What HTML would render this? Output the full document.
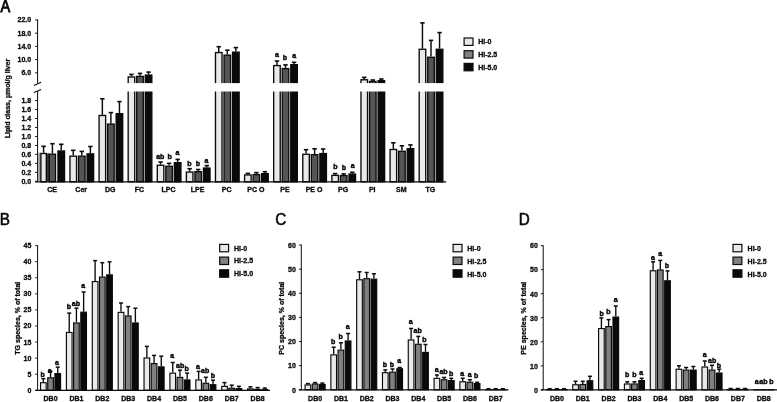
<!DOCTYPE html>
<html lang="en"><head><meta charset="utf-8"><title>Lipid class figure</title>
<style>
html,body{margin:0;padding:0;background:#fff;}
body{width:777px;height:402px;overflow:hidden;}
svg{display:block;font-family:"Liberation Sans",sans-serif;fill:#0a0a0a;}
text{stroke:#0a0a0a;stroke-width:0.3px;}
text.lt{stroke-width:0.45px;}
text.pl{stroke-width:0.6px;}
</style></head><body>
<svg width="777" height="402" viewBox="0 0 777 402">
<rect x="0" y="0" width="777" height="402" fill="#ffffff" stroke="none"/>
<text transform="translate(0.6,11.7) scale(0.86,1)" font-size="17.0" font-weight="normal" class="pl" style="stroke-width:0.9px">A</text>
<line x1="37.60" y1="19.50" x2="37.60" y2="83.30" stroke="#0a0a0a" stroke-width="1.0"/>
<line x1="37.60" y1="91.30" x2="37.60" y2="181.80" stroke="#0a0a0a" stroke-width="1.0"/>
<line x1="33.90" y1="85.60" x2="41.10" y2="82.30" stroke="#0a0a0a" stroke-width="1.1"/>
<line x1="33.90" y1="92.60" x2="41.10" y2="89.40" stroke="#0a0a0a" stroke-width="1.1"/>
<line x1="35.00" y1="19.90" x2="37.60" y2="19.90" stroke="#0a0a0a" stroke-width="0.9"/>
<text x="31.20" y="22.40" font-size="7.0" font-weight="bold" text-anchor="end" >22.0</text>
<line x1="35.00" y1="33.20" x2="37.60" y2="33.20" stroke="#0a0a0a" stroke-width="0.9"/>
<text x="31.20" y="35.70" font-size="7.0" font-weight="bold" text-anchor="end" >18.0</text>
<line x1="35.00" y1="46.40" x2="37.60" y2="46.40" stroke="#0a0a0a" stroke-width="0.9"/>
<text x="31.20" y="48.90" font-size="7.0" font-weight="bold" text-anchor="end" >14.0</text>
<line x1="35.00" y1="59.60" x2="37.60" y2="59.60" stroke="#0a0a0a" stroke-width="0.9"/>
<text x="31.20" y="62.10" font-size="7.0" font-weight="bold" text-anchor="end" >10.0</text>
<line x1="35.00" y1="72.80" x2="37.60" y2="72.80" stroke="#0a0a0a" stroke-width="0.9"/>
<text x="31.20" y="75.30" font-size="7.0" font-weight="bold" text-anchor="end" >6.0</text>
<line x1="35.00" y1="181.30" x2="37.60" y2="181.30" stroke="#0a0a0a" stroke-width="0.9"/>
<text x="31.20" y="183.80" font-size="7.0" font-weight="bold" text-anchor="end" >0.0</text>
<line x1="35.00" y1="172.33" x2="37.60" y2="172.33" stroke="#0a0a0a" stroke-width="0.9"/>
<text x="31.20" y="174.83" font-size="7.0" font-weight="bold" text-anchor="end" >0.2</text>
<line x1="35.00" y1="163.36" x2="37.60" y2="163.36" stroke="#0a0a0a" stroke-width="0.9"/>
<text x="31.20" y="165.86" font-size="7.0" font-weight="bold" text-anchor="end" >0.4</text>
<line x1="35.00" y1="154.39" x2="37.60" y2="154.39" stroke="#0a0a0a" stroke-width="0.9"/>
<text x="31.20" y="156.89" font-size="7.0" font-weight="bold" text-anchor="end" >0.6</text>
<line x1="35.00" y1="145.42" x2="37.60" y2="145.42" stroke="#0a0a0a" stroke-width="0.9"/>
<text x="31.20" y="147.92" font-size="7.0" font-weight="bold" text-anchor="end" >0.8</text>
<line x1="35.00" y1="136.45" x2="37.60" y2="136.45" stroke="#0a0a0a" stroke-width="0.9"/>
<text x="31.20" y="138.95" font-size="7.0" font-weight="bold" text-anchor="end" >1.0</text>
<line x1="35.00" y1="127.48" x2="37.60" y2="127.48" stroke="#0a0a0a" stroke-width="0.9"/>
<text x="31.20" y="129.98" font-size="7.0" font-weight="bold" text-anchor="end" >1.2</text>
<line x1="35.00" y1="118.51" x2="37.60" y2="118.51" stroke="#0a0a0a" stroke-width="0.9"/>
<text x="31.20" y="121.01" font-size="7.0" font-weight="bold" text-anchor="end" >1.4</text>
<line x1="35.00" y1="109.54" x2="37.60" y2="109.54" stroke="#0a0a0a" stroke-width="0.9"/>
<text x="31.20" y="112.04" font-size="7.0" font-weight="bold" text-anchor="end" >1.6</text>
<line x1="35.00" y1="100.57" x2="37.60" y2="100.57" stroke="#0a0a0a" stroke-width="0.9"/>
<text x="31.20" y="103.07" font-size="7.0" font-weight="bold" text-anchor="end" >1.8</text>
<text transform="translate(10.20,98.60) rotate(-90)" font-size="7.3" font-weight="bold" text-anchor="middle" textLength="79.5" lengthAdjust="spacingAndGlyphs">Lipid class, µmol/g liver</text>
<rect x="38.2" y="152.8" width="2.3" height="28" fill="#9a9a9a"/>
<rect x="46.6" y="153.4" width="3.2" height="28" fill="#3a3a3a"/>
<rect x="40.88" y="153.48" width="5.45" height="28.32" fill="#e9e9e9" stroke="#0a0a0a" stroke-width="1.35"/>
<line x1="43.60" y1="152.80" x2="43.60" y2="146.30" stroke="#0a0a0a" stroke-width="1.45"/>
<line x1="41.40" y1="146.30" x2="45.80" y2="146.30" stroke="#0a0a0a" stroke-width="1.595"/>
<rect x="49.27" y="154.18" width="6.25" height="27.63" fill="#555555" stroke="#0a0a0a" stroke-width="1.35"/>
<line x1="52.40" y1="153.50" x2="52.40" y2="143.70" stroke="#0a0a0a" stroke-width="1.45"/>
<line x1="50.20" y1="143.70" x2="54.60" y2="143.70" stroke="#0a0a0a" stroke-width="1.595"/>
<rect x="57.98" y="150.98" width="6.55" height="30.82" fill="#0a0a0a" stroke="#0a0a0a" stroke-width="1.35"/>
<line x1="61.25" y1="150.30" x2="61.25" y2="144.30" stroke="#0a0a0a" stroke-width="1.45"/>
<line x1="59.05" y1="144.30" x2="63.45" y2="144.30" stroke="#0a0a0a" stroke-width="1.595"/>
<text x="52.10" y="192.10" font-size="7.0" font-weight="bold" text-anchor="middle" >CE</text>
<rect x="69.98" y="156.18" width="6.55" height="25.63" fill="#e9e9e9" stroke="#0a0a0a" stroke-width="1.35"/>
<line x1="73.25" y1="155.50" x2="73.25" y2="150.30" stroke="#0a0a0a" stroke-width="1.45"/>
<line x1="71.05" y1="150.30" x2="75.45" y2="150.30" stroke="#0a0a0a" stroke-width="1.595"/>
<rect x="78.53" y="156.18" width="6.55" height="25.63" fill="#555555" stroke="#0a0a0a" stroke-width="1.35"/>
<line x1="81.80" y1="155.50" x2="81.80" y2="151.40" stroke="#0a0a0a" stroke-width="1.45"/>
<line x1="79.60" y1="151.40" x2="84.00" y2="151.40" stroke="#0a0a0a" stroke-width="1.595"/>
<rect x="87.08" y="153.88" width="6.55" height="27.93" fill="#0a0a0a" stroke="#0a0a0a" stroke-width="1.35"/>
<line x1="90.35" y1="153.20" x2="90.35" y2="146.50" stroke="#0a0a0a" stroke-width="1.45"/>
<line x1="88.15" y1="146.50" x2="92.55" y2="146.50" stroke="#0a0a0a" stroke-width="1.595"/>
<text x="81.20" y="192.10" font-size="7.0" font-weight="bold" text-anchor="middle" >Cer</text>
<rect x="99.08" y="115.47" width="6.55" height="66.33" fill="#e9e9e9" stroke="#0a0a0a" stroke-width="1.35"/>
<line x1="102.35" y1="114.80" x2="102.35" y2="98.80" stroke="#0a0a0a" stroke-width="1.45"/>
<line x1="100.15" y1="98.80" x2="104.55" y2="98.80" stroke="#0a0a0a" stroke-width="1.595"/>
<rect x="107.62" y="124.08" width="6.55" height="57.73" fill="#555555" stroke="#0a0a0a" stroke-width="1.35"/>
<line x1="110.90" y1="123.40" x2="110.90" y2="112.60" stroke="#0a0a0a" stroke-width="1.45"/>
<line x1="108.70" y1="112.60" x2="113.10" y2="112.60" stroke="#0a0a0a" stroke-width="1.595"/>
<rect x="116.17" y="113.67" width="6.55" height="68.13" fill="#0a0a0a" stroke="#0a0a0a" stroke-width="1.35"/>
<line x1="119.45" y1="113.00" x2="119.45" y2="101.60" stroke="#0a0a0a" stroke-width="1.45"/>
<line x1="117.25" y1="101.60" x2="121.65" y2="101.60" stroke="#0a0a0a" stroke-width="1.595"/>
<text x="110.30" y="192.10" font-size="7.0" font-weight="bold" text-anchor="middle" >DG</text>
<rect x="128.18" y="76.97" width="6.55" height="104.83" fill="#e9e9e9" stroke="#0a0a0a" stroke-width="1.35"/>
<line x1="131.45" y1="76.30" x2="131.45" y2="74.40" stroke="#0a0a0a" stroke-width="1.45"/>
<line x1="129.25" y1="74.40" x2="133.65" y2="74.40" stroke="#0a0a0a" stroke-width="1.595"/>
<rect x="136.73" y="76.38" width="6.55" height="105.43" fill="#555555" stroke="#0a0a0a" stroke-width="1.35"/>
<line x1="140.00" y1="75.70" x2="140.00" y2="73.40" stroke="#0a0a0a" stroke-width="1.45"/>
<line x1="137.80" y1="73.40" x2="142.20" y2="73.40" stroke="#0a0a0a" stroke-width="1.595"/>
<rect x="145.28" y="75.08" width="6.55" height="106.73" fill="#0a0a0a" stroke="#0a0a0a" stroke-width="1.35"/>
<line x1="148.55" y1="74.40" x2="148.55" y2="72.10" stroke="#0a0a0a" stroke-width="1.45"/>
<line x1="146.35" y1="72.10" x2="150.75" y2="72.10" stroke="#0a0a0a" stroke-width="1.595"/>
<rect x="126.50" y="83.1" width="27.5" height="8.4" fill="#fff"/>
<text x="139.40" y="192.10" font-size="7.0" font-weight="bold" text-anchor="middle" >FC</text>
<rect x="157.28" y="165.28" width="6.55" height="16.53" fill="#e9e9e9" stroke="#0a0a0a" stroke-width="1.35"/>
<line x1="160.55" y1="164.60" x2="160.55" y2="162.00" stroke="#0a0a0a" stroke-width="1.45"/>
<line x1="158.35" y1="162.00" x2="162.75" y2="162.00" stroke="#0a0a0a" stroke-width="1.595"/>
<rect x="165.83" y="166.28" width="6.55" height="15.53" fill="#555555" stroke="#0a0a0a" stroke-width="1.35"/>
<line x1="169.10" y1="165.60" x2="169.10" y2="163.30" stroke="#0a0a0a" stroke-width="1.45"/>
<line x1="166.90" y1="163.30" x2="171.30" y2="163.30" stroke="#0a0a0a" stroke-width="1.595"/>
<rect x="174.38" y="162.68" width="6.55" height="19.13" fill="#0a0a0a" stroke="#0a0a0a" stroke-width="1.35"/>
<line x1="177.65" y1="162.00" x2="177.65" y2="159.40" stroke="#0a0a0a" stroke-width="1.45"/>
<line x1="175.45" y1="159.40" x2="179.85" y2="159.40" stroke="#0a0a0a" stroke-width="1.595"/>
<text x="168.50" y="192.10" font-size="7.0" font-weight="bold" text-anchor="middle" >LPC</text>
<rect x="186.38" y="172.08" width="6.55" height="9.73" fill="#e9e9e9" stroke="#0a0a0a" stroke-width="1.35"/>
<line x1="189.65" y1="171.40" x2="189.65" y2="168.70" stroke="#0a0a0a" stroke-width="1.45"/>
<line x1="187.45" y1="168.70" x2="191.85" y2="168.70" stroke="#0a0a0a" stroke-width="1.595"/>
<rect x="194.93" y="171.68" width="6.55" height="10.13" fill="#555555" stroke="#0a0a0a" stroke-width="1.35"/>
<line x1="198.20" y1="171.00" x2="198.20" y2="169.50" stroke="#0a0a0a" stroke-width="1.45"/>
<line x1="196.00" y1="169.50" x2="200.40" y2="169.50" stroke="#0a0a0a" stroke-width="1.595"/>
<rect x="203.47" y="168.08" width="6.55" height="13.73" fill="#0a0a0a" stroke="#0a0a0a" stroke-width="1.35"/>
<line x1="206.75" y1="167.40" x2="206.75" y2="165.60" stroke="#0a0a0a" stroke-width="1.45"/>
<line x1="204.55" y1="165.60" x2="208.95" y2="165.60" stroke="#0a0a0a" stroke-width="1.595"/>
<text x="197.60" y="192.10" font-size="7.0" font-weight="bold" text-anchor="middle" >LPE</text>
<rect x="215.48" y="52.57" width="6.55" height="129.22" fill="#e9e9e9" stroke="#0a0a0a" stroke-width="1.35"/>
<line x1="218.75" y1="51.90" x2="218.75" y2="46.70" stroke="#0a0a0a" stroke-width="1.45"/>
<line x1="216.55" y1="46.70" x2="220.95" y2="46.70" stroke="#0a0a0a" stroke-width="1.595"/>
<rect x="224.03" y="55.17" width="6.55" height="126.63" fill="#555555" stroke="#0a0a0a" stroke-width="1.35"/>
<line x1="227.30" y1="54.50" x2="227.30" y2="50.20" stroke="#0a0a0a" stroke-width="1.45"/>
<line x1="225.10" y1="50.20" x2="229.50" y2="50.20" stroke="#0a0a0a" stroke-width="1.595"/>
<rect x="232.58" y="52.17" width="6.55" height="129.62" fill="#0a0a0a" stroke="#0a0a0a" stroke-width="1.35"/>
<line x1="235.85" y1="51.50" x2="235.85" y2="47.60" stroke="#0a0a0a" stroke-width="1.45"/>
<line x1="233.65" y1="47.60" x2="238.05" y2="47.60" stroke="#0a0a0a" stroke-width="1.595"/>
<rect x="213.80" y="83.1" width="27.5" height="8.4" fill="#fff"/>
<text x="226.70" y="192.10" font-size="7.0" font-weight="bold" text-anchor="middle" >PC</text>
<rect x="244.58" y="174.98" width="6.55" height="6.83" fill="#e9e9e9" stroke="#0a0a0a" stroke-width="1.35"/>
<line x1="247.85" y1="174.30" x2="247.85" y2="173.40" stroke="#0a0a0a" stroke-width="1.45"/>
<line x1="245.65" y1="173.40" x2="250.05" y2="173.40" stroke="#0a0a0a" stroke-width="1.595"/>
<rect x="253.13" y="174.58" width="6.55" height="7.23" fill="#555555" stroke="#0a0a0a" stroke-width="1.35"/>
<line x1="256.40" y1="173.90" x2="256.40" y2="172.60" stroke="#0a0a0a" stroke-width="1.45"/>
<line x1="254.20" y1="172.60" x2="258.60" y2="172.60" stroke="#0a0a0a" stroke-width="1.595"/>
<rect x="261.68" y="173.68" width="6.55" height="8.13" fill="#0a0a0a" stroke="#0a0a0a" stroke-width="1.35"/>
<line x1="264.95" y1="173.00" x2="264.95" y2="171.70" stroke="#0a0a0a" stroke-width="1.45"/>
<line x1="262.75" y1="171.70" x2="267.15" y2="171.70" stroke="#0a0a0a" stroke-width="1.595"/>
<text x="255.80" y="192.10" font-size="7.0" font-weight="bold" text-anchor="middle" >PC O</text>
<rect x="273.68" y="65.58" width="6.55" height="116.23" fill="#e9e9e9" stroke="#0a0a0a" stroke-width="1.35"/>
<line x1="276.95" y1="64.90" x2="276.95" y2="61.00" stroke="#0a0a0a" stroke-width="1.45"/>
<line x1="274.75" y1="61.00" x2="279.15" y2="61.00" stroke="#0a0a0a" stroke-width="1.595"/>
<rect x="282.23" y="68.58" width="6.55" height="113.23" fill="#555555" stroke="#0a0a0a" stroke-width="1.35"/>
<line x1="285.50" y1="67.90" x2="285.50" y2="64.90" stroke="#0a0a0a" stroke-width="1.45"/>
<line x1="283.30" y1="64.90" x2="287.70" y2="64.90" stroke="#0a0a0a" stroke-width="1.595"/>
<rect x="290.78" y="64.67" width="6.55" height="117.13" fill="#0a0a0a" stroke="#0a0a0a" stroke-width="1.35"/>
<line x1="294.05" y1="64.00" x2="294.05" y2="62.30" stroke="#0a0a0a" stroke-width="1.45"/>
<line x1="291.85" y1="62.30" x2="296.25" y2="62.30" stroke="#0a0a0a" stroke-width="1.595"/>
<rect x="272.00" y="83.1" width="27.5" height="8.4" fill="#fff"/>
<text x="284.90" y="192.10" font-size="7.0" font-weight="bold" text-anchor="middle" >PE</text>
<rect x="302.78" y="154.28" width="6.55" height="27.53" fill="#e9e9e9" stroke="#0a0a0a" stroke-width="1.35"/>
<line x1="306.05" y1="153.60" x2="306.05" y2="149.70" stroke="#0a0a0a" stroke-width="1.45"/>
<line x1="303.85" y1="149.70" x2="308.25" y2="149.70" stroke="#0a0a0a" stroke-width="1.595"/>
<rect x="311.33" y="154.68" width="6.55" height="27.13" fill="#555555" stroke="#0a0a0a" stroke-width="1.35"/>
<line x1="314.60" y1="154.00" x2="314.60" y2="148.80" stroke="#0a0a0a" stroke-width="1.45"/>
<line x1="312.40" y1="148.80" x2="316.80" y2="148.80" stroke="#0a0a0a" stroke-width="1.595"/>
<rect x="319.88" y="153.58" width="6.55" height="28.23" fill="#0a0a0a" stroke="#0a0a0a" stroke-width="1.35"/>
<line x1="323.15" y1="152.90" x2="323.15" y2="149.00" stroke="#0a0a0a" stroke-width="1.45"/>
<line x1="320.95" y1="149.00" x2="325.35" y2="149.00" stroke="#0a0a0a" stroke-width="1.595"/>
<text x="314.00" y="192.10" font-size="7.0" font-weight="bold" text-anchor="middle" >PE O</text>
<rect x="331.88" y="175.38" width="6.55" height="6.43" fill="#e9e9e9" stroke="#0a0a0a" stroke-width="1.35"/>
<line x1="335.15" y1="174.70" x2="335.15" y2="173.60" stroke="#0a0a0a" stroke-width="1.45"/>
<line x1="332.95" y1="173.60" x2="337.35" y2="173.60" stroke="#0a0a0a" stroke-width="1.595"/>
<rect x="340.43" y="175.58" width="6.55" height="6.23" fill="#555555" stroke="#0a0a0a" stroke-width="1.35"/>
<line x1="343.70" y1="174.90" x2="343.70" y2="173.90" stroke="#0a0a0a" stroke-width="1.45"/>
<line x1="341.50" y1="173.90" x2="345.90" y2="173.90" stroke="#0a0a0a" stroke-width="1.595"/>
<rect x="348.98" y="174.08" width="6.55" height="7.73" fill="#0a0a0a" stroke="#0a0a0a" stroke-width="1.35"/>
<line x1="352.25" y1="173.40" x2="352.25" y2="172.30" stroke="#0a0a0a" stroke-width="1.45"/>
<line x1="350.05" y1="172.30" x2="354.45" y2="172.30" stroke="#0a0a0a" stroke-width="1.595"/>
<text x="343.10" y="192.10" font-size="7.0" font-weight="bold" text-anchor="middle" >PG</text>
<rect x="360.98" y="79.77" width="6.55" height="102.03" fill="#e9e9e9" stroke="#0a0a0a" stroke-width="1.35"/>
<line x1="364.25" y1="79.10" x2="364.25" y2="77.40" stroke="#0a0a0a" stroke-width="1.45"/>
<line x1="362.05" y1="77.40" x2="366.45" y2="77.40" stroke="#0a0a0a" stroke-width="1.595"/>
<rect x="369.53" y="81.47" width="6.55" height="100.33" fill="#555555" stroke="#0a0a0a" stroke-width="1.35"/>
<line x1="372.80" y1="80.80" x2="372.80" y2="80.00" stroke="#0a0a0a" stroke-width="1.45"/>
<line x1="370.60" y1="80.00" x2="375.00" y2="80.00" stroke="#0a0a0a" stroke-width="1.595"/>
<rect x="378.08" y="80.67" width="6.55" height="101.13" fill="#0a0a0a" stroke="#0a0a0a" stroke-width="1.35"/>
<line x1="381.35" y1="80.00" x2="381.35" y2="79.00" stroke="#0a0a0a" stroke-width="1.45"/>
<line x1="379.15" y1="79.00" x2="383.55" y2="79.00" stroke="#0a0a0a" stroke-width="1.595"/>
<rect x="359.30" y="83.1" width="27.5" height="8.4" fill="#fff"/>
<text x="372.20" y="192.10" font-size="7.0" font-weight="bold" text-anchor="middle" >PI</text>
<rect x="390.08" y="149.48" width="6.55" height="32.33" fill="#e9e9e9" stroke="#0a0a0a" stroke-width="1.35"/>
<line x1="393.35" y1="148.80" x2="393.35" y2="142.80" stroke="#0a0a0a" stroke-width="1.45"/>
<line x1="391.15" y1="142.80" x2="395.55" y2="142.80" stroke="#0a0a0a" stroke-width="1.595"/>
<rect x="398.63" y="151.28" width="6.55" height="30.53" fill="#555555" stroke="#0a0a0a" stroke-width="1.35"/>
<line x1="401.90" y1="150.60" x2="401.90" y2="145.80" stroke="#0a0a0a" stroke-width="1.45"/>
<line x1="399.70" y1="145.80" x2="404.10" y2="145.80" stroke="#0a0a0a" stroke-width="1.595"/>
<rect x="407.18" y="148.68" width="6.55" height="33.13" fill="#0a0a0a" stroke="#0a0a0a" stroke-width="1.35"/>
<line x1="410.45" y1="148.00" x2="410.45" y2="144.90" stroke="#0a0a0a" stroke-width="1.45"/>
<line x1="408.25" y1="144.90" x2="412.65" y2="144.90" stroke="#0a0a0a" stroke-width="1.595"/>
<text x="401.30" y="192.10" font-size="7.0" font-weight="bold" text-anchor="middle" >SM</text>
<rect x="419.18" y="49.27" width="6.55" height="132.53" fill="#e9e9e9" stroke="#0a0a0a" stroke-width="1.35"/>
<line x1="422.45" y1="48.60" x2="422.45" y2="22.90" stroke="#0a0a0a" stroke-width="1.45"/>
<line x1="420.25" y1="22.90" x2="424.65" y2="22.90" stroke="#0a0a0a" stroke-width="1.595"/>
<rect x="427.73" y="57.27" width="6.55" height="124.53" fill="#555555" stroke="#0a0a0a" stroke-width="1.35"/>
<line x1="431.00" y1="56.60" x2="431.00" y2="40.40" stroke="#0a0a0a" stroke-width="1.45"/>
<line x1="428.80" y1="40.40" x2="433.20" y2="40.40" stroke="#0a0a0a" stroke-width="1.595"/>
<rect x="436.28" y="49.27" width="6.55" height="132.53" fill="#0a0a0a" stroke="#0a0a0a" stroke-width="1.35"/>
<line x1="439.55" y1="48.60" x2="439.55" y2="32.60" stroke="#0a0a0a" stroke-width="1.45"/>
<line x1="437.35" y1="32.60" x2="441.75" y2="32.60" stroke="#0a0a0a" stroke-width="1.595"/>
<rect x="417.50" y="83.1" width="27.5" height="8.4" fill="#fff"/>
<text x="430.40" y="192.10" font-size="7.0" font-weight="bold" text-anchor="middle" >TG</text>
<line x1="35.00" y1="181.80" x2="446.20" y2="181.80" stroke="#0a0a0a" stroke-width="1.3"/>
<text x="160.30" y="158.80" font-size="7.0" font-weight="bold" text-anchor="middle" class="lt">ab</text>
<text x="169.70" y="158.80" font-size="7.0" font-weight="bold" text-anchor="middle" class="lt">b</text>
<text x="177.40" y="154.50" font-size="7.0" font-weight="bold" text-anchor="middle" class="lt">a</text>
<text x="189.50" y="165.60" font-size="7.0" font-weight="bold" text-anchor="middle" class="lt">b</text>
<text x="197.90" y="165.60" font-size="7.0" font-weight="bold" text-anchor="middle" class="lt">b</text>
<text x="206.50" y="163.00" font-size="7.0" font-weight="bold" text-anchor="middle" class="lt">a</text>
<text x="277.00" y="57.30" font-size="7.0" font-weight="bold" text-anchor="middle" class="lt">a</text>
<text x="285.00" y="59.60" font-size="7.0" font-weight="bold" text-anchor="middle" class="lt">b</text>
<text x="294.20" y="57.70" font-size="7.0" font-weight="bold" text-anchor="middle" class="lt">a</text>
<text x="335.40" y="169.10" font-size="7.0" font-weight="bold" text-anchor="middle" class="lt">b</text>
<text x="344.00" y="169.50" font-size="7.0" font-weight="bold" text-anchor="middle" class="lt">b</text>
<text x="352.60" y="167.80" font-size="7.0" font-weight="bold" text-anchor="middle" class="lt">a</text>
<rect x="464.10" y="38.00" width="8.90" height="7.40" fill="#e9e9e9" stroke="#0a0a0a" stroke-width="1.2"/>
<text x="478.20" y="44.10" font-size="7.0" font-weight="bold" text-anchor="start" >HI-0</text>
<rect x="464.10" y="50.70" width="8.90" height="7.40" fill="#808080" stroke="#0a0a0a" stroke-width="1.2"/>
<text x="478.20" y="56.80" font-size="7.0" font-weight="bold" text-anchor="start" >HI-2.5</text>
<rect x="464.10" y="63.40" width="8.90" height="7.40" fill="#0a0a0a" stroke="#0a0a0a" stroke-width="1.2"/>
<text x="478.20" y="69.50" font-size="7.0" font-weight="bold" text-anchor="start" >HI-5.0</text>
<text transform="translate(-0.30,224.5) scale(0.94,1)" font-size="16.2" font-weight="normal" class="pl">B</text>
<line x1="37.60" y1="245.20" x2="37.60" y2="390.30" stroke="#0a0a0a" stroke-width="1.0"/>
<line x1="35.20" y1="390.30" x2="37.60" y2="390.30" stroke="#0a0a0a" stroke-width="0.9"/>
<text x="31.30" y="392.80" font-size="7.0" font-weight="bold" text-anchor="end" >0</text>
<line x1="35.20" y1="374.22" x2="37.60" y2="374.22" stroke="#0a0a0a" stroke-width="0.9"/>
<text x="31.30" y="376.72" font-size="7.0" font-weight="bold" text-anchor="end" >5</text>
<line x1="35.20" y1="358.14" x2="37.60" y2="358.14" stroke="#0a0a0a" stroke-width="0.9"/>
<text x="31.30" y="360.64" font-size="7.0" font-weight="bold" text-anchor="end" >10</text>
<line x1="35.20" y1="342.07" x2="37.60" y2="342.07" stroke="#0a0a0a" stroke-width="0.9"/>
<text x="31.30" y="344.57" font-size="7.0" font-weight="bold" text-anchor="end" >15</text>
<line x1="35.20" y1="325.99" x2="37.60" y2="325.99" stroke="#0a0a0a" stroke-width="0.9"/>
<text x="31.30" y="328.49" font-size="7.0" font-weight="bold" text-anchor="end" >20</text>
<line x1="35.20" y1="309.91" x2="37.60" y2="309.91" stroke="#0a0a0a" stroke-width="0.9"/>
<text x="31.30" y="312.41" font-size="7.0" font-weight="bold" text-anchor="end" >25</text>
<line x1="35.20" y1="293.83" x2="37.60" y2="293.83" stroke="#0a0a0a" stroke-width="0.9"/>
<text x="31.30" y="296.33" font-size="7.0" font-weight="bold" text-anchor="end" >30</text>
<line x1="35.20" y1="277.76" x2="37.60" y2="277.76" stroke="#0a0a0a" stroke-width="0.9"/>
<text x="31.30" y="280.26" font-size="7.0" font-weight="bold" text-anchor="end" >35</text>
<line x1="35.20" y1="261.68" x2="37.60" y2="261.68" stroke="#0a0a0a" stroke-width="0.9"/>
<text x="31.30" y="264.18" font-size="7.0" font-weight="bold" text-anchor="end" >40</text>
<line x1="35.20" y1="245.60" x2="37.60" y2="245.60" stroke="#0a0a0a" stroke-width="0.9"/>
<text x="31.30" y="248.10" font-size="7.0" font-weight="bold" text-anchor="end" >45</text>
<text transform="translate(20.00,318.20) rotate(-90)" font-size="7.3" font-weight="bold" text-anchor="middle" textLength="73.0" lengthAdjust="spacingAndGlyphs">TG species, % of total</text>
<rect x="40.53" y="382.68" width="5.65" height="7.62" fill="#e9e9e9" stroke="#0a0a0a" stroke-width="1.15"/>
<line x1="43.35" y1="382.10" x2="43.35" y2="378.70" stroke="#0a0a0a" stroke-width="1.35"/>
<line x1="41.35" y1="378.70" x2="45.35" y2="378.70" stroke="#0a0a0a" stroke-width="1.4850000000000003"/>
<rect x="47.73" y="377.77" width="5.65" height="12.53" fill="#808080" stroke="#0a0a0a" stroke-width="1.15"/>
<line x1="50.55" y1="377.20" x2="50.55" y2="371.30" stroke="#0a0a0a" stroke-width="1.35"/>
<line x1="48.55" y1="371.30" x2="52.55" y2="371.30" stroke="#0a0a0a" stroke-width="1.4850000000000003"/>
<rect x="54.93" y="373.57" width="5.65" height="16.73" fill="#0a0a0a" stroke="#0a0a0a" stroke-width="1.15"/>
<line x1="57.75" y1="373.00" x2="57.75" y2="367.10" stroke="#0a0a0a" stroke-width="1.35"/>
<line x1="55.75" y1="367.10" x2="59.75" y2="367.10" stroke="#0a0a0a" stroke-width="1.4850000000000003"/>
<text x="50.55" y="400.90" font-size="7.0" font-weight="bold" text-anchor="middle" >DB0</text>
<rect x="66.41" y="332.47" width="5.65" height="57.83" fill="#e9e9e9" stroke="#0a0a0a" stroke-width="1.15"/>
<line x1="69.23" y1="331.90" x2="69.23" y2="313.10" stroke="#0a0a0a" stroke-width="1.35"/>
<line x1="67.23" y1="313.10" x2="71.23" y2="313.10" stroke="#0a0a0a" stroke-width="1.4850000000000003"/>
<rect x="73.61" y="322.97" width="5.65" height="67.33" fill="#808080" stroke="#0a0a0a" stroke-width="1.15"/>
<line x1="76.43" y1="322.40" x2="76.43" y2="308.20" stroke="#0a0a0a" stroke-width="1.35"/>
<line x1="74.43" y1="308.20" x2="78.43" y2="308.20" stroke="#0a0a0a" stroke-width="1.4850000000000003"/>
<rect x="80.81" y="312.18" width="5.65" height="78.12" fill="#0a0a0a" stroke="#0a0a0a" stroke-width="1.15"/>
<line x1="83.63" y1="311.60" x2="83.63" y2="292.00" stroke="#0a0a0a" stroke-width="1.35"/>
<line x1="81.63" y1="292.00" x2="85.63" y2="292.00" stroke="#0a0a0a" stroke-width="1.4850000000000003"/>
<text x="76.43" y="400.90" font-size="7.0" font-weight="bold" text-anchor="middle" >DB1</text>
<rect x="92.29" y="281.57" width="5.65" height="108.73" fill="#e9e9e9" stroke="#0a0a0a" stroke-width="1.15"/>
<line x1="95.11" y1="281.00" x2="95.11" y2="260.60" stroke="#0a0a0a" stroke-width="1.35"/>
<line x1="93.11" y1="260.60" x2="97.11" y2="260.60" stroke="#0a0a0a" stroke-width="1.4850000000000003"/>
<rect x="99.49" y="277.07" width="5.65" height="113.23" fill="#808080" stroke="#0a0a0a" stroke-width="1.15"/>
<line x1="102.31" y1="276.50" x2="102.31" y2="262.70" stroke="#0a0a0a" stroke-width="1.35"/>
<line x1="100.31" y1="262.70" x2="104.31" y2="262.70" stroke="#0a0a0a" stroke-width="1.4850000000000003"/>
<rect x="106.69" y="274.88" width="5.65" height="115.42" fill="#0a0a0a" stroke="#0a0a0a" stroke-width="1.15"/>
<line x1="109.51" y1="274.30" x2="109.51" y2="261.90" stroke="#0a0a0a" stroke-width="1.35"/>
<line x1="107.51" y1="261.90" x2="111.51" y2="261.90" stroke="#0a0a0a" stroke-width="1.4850000000000003"/>
<text x="102.31" y="400.90" font-size="7.0" font-weight="bold" text-anchor="middle" >DB2</text>
<rect x="118.17" y="312.38" width="5.65" height="77.92" fill="#e9e9e9" stroke="#0a0a0a" stroke-width="1.15"/>
<line x1="120.99" y1="311.80" x2="120.99" y2="303.00" stroke="#0a0a0a" stroke-width="1.35"/>
<line x1="118.99" y1="303.00" x2="122.99" y2="303.00" stroke="#0a0a0a" stroke-width="1.4850000000000003"/>
<rect x="125.37" y="315.97" width="5.65" height="74.33" fill="#808080" stroke="#0a0a0a" stroke-width="1.15"/>
<line x1="128.19" y1="315.40" x2="128.19" y2="306.60" stroke="#0a0a0a" stroke-width="1.35"/>
<line x1="126.19" y1="306.60" x2="130.19" y2="306.60" stroke="#0a0a0a" stroke-width="1.4850000000000003"/>
<rect x="132.56" y="322.97" width="5.65" height="67.33" fill="#0a0a0a" stroke="#0a0a0a" stroke-width="1.15"/>
<line x1="135.39" y1="322.40" x2="135.39" y2="308.20" stroke="#0a0a0a" stroke-width="1.35"/>
<line x1="133.39" y1="308.20" x2="137.39" y2="308.20" stroke="#0a0a0a" stroke-width="1.4850000000000003"/>
<text x="128.19" y="400.90" font-size="7.0" font-weight="bold" text-anchor="middle" >DB3</text>
<rect x="144.04" y="357.97" width="5.65" height="32.33" fill="#e9e9e9" stroke="#0a0a0a" stroke-width="1.15"/>
<line x1="146.87" y1="357.40" x2="146.87" y2="346.40" stroke="#0a0a0a" stroke-width="1.35"/>
<line x1="144.87" y1="346.40" x2="148.87" y2="346.40" stroke="#0a0a0a" stroke-width="1.4850000000000003"/>
<rect x="151.24" y="363.57" width="5.65" height="26.73" fill="#808080" stroke="#0a0a0a" stroke-width="1.15"/>
<line x1="154.07" y1="363.00" x2="154.07" y2="355.40" stroke="#0a0a0a" stroke-width="1.35"/>
<line x1="152.07" y1="355.40" x2="156.07" y2="355.40" stroke="#0a0a0a" stroke-width="1.4850000000000003"/>
<rect x="158.44" y="366.88" width="5.65" height="23.43" fill="#0a0a0a" stroke="#0a0a0a" stroke-width="1.15"/>
<line x1="161.27" y1="366.30" x2="161.27" y2="356.20" stroke="#0a0a0a" stroke-width="1.35"/>
<line x1="159.27" y1="356.20" x2="163.27" y2="356.20" stroke="#0a0a0a" stroke-width="1.4850000000000003"/>
<text x="154.07" y="400.90" font-size="7.0" font-weight="bold" text-anchor="middle" >DB4</text>
<rect x="169.93" y="373.18" width="5.65" height="17.12" fill="#e9e9e9" stroke="#0a0a0a" stroke-width="1.15"/>
<line x1="172.75" y1="372.60" x2="172.75" y2="362.50" stroke="#0a0a0a" stroke-width="1.35"/>
<line x1="170.75" y1="362.50" x2="174.75" y2="362.50" stroke="#0a0a0a" stroke-width="1.4850000000000003"/>
<rect x="177.12" y="377.38" width="5.65" height="12.93" fill="#808080" stroke="#0a0a0a" stroke-width="1.15"/>
<line x1="179.95" y1="376.80" x2="179.95" y2="370.20" stroke="#0a0a0a" stroke-width="1.35"/>
<line x1="177.95" y1="370.20" x2="181.95" y2="370.20" stroke="#0a0a0a" stroke-width="1.4850000000000003"/>
<rect x="184.33" y="379.97" width="5.65" height="10.33" fill="#0a0a0a" stroke="#0a0a0a" stroke-width="1.15"/>
<line x1="187.15" y1="379.40" x2="187.15" y2="373.10" stroke="#0a0a0a" stroke-width="1.35"/>
<line x1="185.15" y1="373.10" x2="189.15" y2="373.10" stroke="#0a0a0a" stroke-width="1.4850000000000003"/>
<text x="179.95" y="400.90" font-size="7.0" font-weight="bold" text-anchor="middle" >DB5</text>
<rect x="195.81" y="379.97" width="5.65" height="10.33" fill="#e9e9e9" stroke="#0a0a0a" stroke-width="1.15"/>
<line x1="198.63" y1="379.40" x2="198.63" y2="371.40" stroke="#0a0a0a" stroke-width="1.35"/>
<line x1="196.63" y1="371.40" x2="200.63" y2="371.40" stroke="#0a0a0a" stroke-width="1.4850000000000003"/>
<rect x="203.00" y="383.27" width="5.65" height="7.03" fill="#808080" stroke="#0a0a0a" stroke-width="1.15"/>
<line x1="205.83" y1="382.70" x2="205.83" y2="377.30" stroke="#0a0a0a" stroke-width="1.35"/>
<line x1="203.83" y1="377.30" x2="207.83" y2="377.30" stroke="#0a0a0a" stroke-width="1.4850000000000003"/>
<rect x="210.21" y="384.68" width="5.65" height="5.62" fill="#0a0a0a" stroke="#0a0a0a" stroke-width="1.15"/>
<line x1="213.03" y1="384.10" x2="213.03" y2="380.20" stroke="#0a0a0a" stroke-width="1.35"/>
<line x1="211.03" y1="380.20" x2="215.03" y2="380.20" stroke="#0a0a0a" stroke-width="1.4850000000000003"/>
<text x="205.83" y="400.90" font-size="7.0" font-weight="bold" text-anchor="middle" >DB6</text>
<rect x="221.69" y="386.38" width="5.65" height="3.92" fill="#e9e9e9" stroke="#0a0a0a" stroke-width="1.15"/>
<line x1="224.51" y1="385.80" x2="224.51" y2="382.60" stroke="#0a0a0a" stroke-width="1.35"/>
<line x1="222.51" y1="382.60" x2="226.51" y2="382.60" stroke="#0a0a0a" stroke-width="1.4850000000000003"/>
<rect x="228.88" y="388.27" width="5.65" height="2.03" fill="#808080" stroke="#0a0a0a" stroke-width="1.15"/>
<line x1="231.71" y1="387.70" x2="231.71" y2="385.20" stroke="#0a0a0a" stroke-width="1.35"/>
<line x1="229.71" y1="385.20" x2="233.71" y2="385.20" stroke="#0a0a0a" stroke-width="1.4850000000000003"/>
<rect x="236.09" y="388.57" width="5.65" height="1.73" fill="#0a0a0a" stroke="#0a0a0a" stroke-width="1.15"/>
<line x1="238.91" y1="388.00" x2="238.91" y2="386.30" stroke="#0a0a0a" stroke-width="1.35"/>
<line x1="236.91" y1="386.30" x2="240.91" y2="386.30" stroke="#0a0a0a" stroke-width="1.4850000000000003"/>
<text x="231.71" y="400.90" font-size="7.0" font-weight="bold" text-anchor="middle" >DB7</text>
<rect x="247.56" y="388.88" width="5.65" height="1.43" fill="#e9e9e9" stroke="#0a0a0a" stroke-width="1.15"/>
<line x1="250.39" y1="388.30" x2="250.39" y2="386.80" stroke="#0a0a0a" stroke-width="1.35"/>
<line x1="248.39" y1="386.80" x2="252.39" y2="386.80" stroke="#0a0a0a" stroke-width="1.4850000000000003"/>
<rect x="254.76" y="389.38" width="5.65" height="0.93" fill="#808080" stroke="#0a0a0a" stroke-width="1.15"/>
<line x1="257.59" y1="388.80" x2="257.59" y2="387.60" stroke="#0a0a0a" stroke-width="1.35"/>
<line x1="255.59" y1="387.60" x2="259.59" y2="387.60" stroke="#0a0a0a" stroke-width="1.4850000000000003"/>
<rect x="261.96" y="389.47" width="5.65" height="0.83" fill="#0a0a0a" stroke="#0a0a0a" stroke-width="1.15"/>
<line x1="264.79" y1="388.90" x2="264.79" y2="388.00" stroke="#0a0a0a" stroke-width="1.35"/>
<line x1="262.79" y1="388.00" x2="266.79" y2="388.00" stroke="#0a0a0a" stroke-width="1.4850000000000003"/>
<text x="257.59" y="400.90" font-size="7.0" font-weight="bold" text-anchor="middle" >DB8</text>
<line x1="35.20" y1="390.30" x2="270.00" y2="390.30" stroke="#0a0a0a" stroke-width="1.3"/>
<text x="42.70" y="376.50" font-size="7.0" font-weight="bold" text-anchor="middle" class="lt">b</text>
<text x="49.80" y="373.30" font-size="7.0" font-weight="bold" text-anchor="middle" class="lt">a</text>
<text x="57.00" y="364.50" font-size="7.0" font-weight="bold" text-anchor="middle" class="lt">a</text>
<text x="69.00" y="308.60" font-size="7.0" font-weight="bold" text-anchor="middle" class="lt">b</text>
<text x="75.90" y="305.60" font-size="7.0" font-weight="bold" text-anchor="middle" class="lt">ab</text>
<text x="83.20" y="287.50" font-size="7.0" font-weight="bold" text-anchor="middle" class="lt">a</text>
<text x="172.30" y="358.40" font-size="7.0" font-weight="bold" text-anchor="middle" class="lt">a</text>
<text x="180.20" y="367.50" font-size="7.0" font-weight="bold" text-anchor="middle" class="lt">ab</text>
<text x="186.60" y="370.60" font-size="7.0" font-weight="bold" text-anchor="middle" class="lt">b</text>
<text x="198.00" y="368.50" font-size="7.0" font-weight="bold" text-anchor="middle" class="lt">a</text>
<text x="205.20" y="372.60" font-size="7.0" font-weight="bold" text-anchor="middle" class="lt">ab</text>
<text x="212.80" y="378.20" font-size="7.0" font-weight="bold" text-anchor="middle" class="lt">b</text>
<rect x="219.70" y="244.40" width="8.90" height="7.40" fill="#e9e9e9" stroke="#0a0a0a" stroke-width="1.2"/>
<text x="234.00" y="250.70" font-size="7.0" font-weight="bold" text-anchor="start" >HI-0</text>
<rect x="219.70" y="257.10" width="8.90" height="7.40" fill="#808080" stroke="#0a0a0a" stroke-width="1.2"/>
<text x="234.00" y="263.40" font-size="7.0" font-weight="bold" text-anchor="start" >HI-2.5</text>
<rect x="219.70" y="269.80" width="8.90" height="7.40" fill="#0a0a0a" stroke="#0a0a0a" stroke-width="1.2"/>
<text x="234.00" y="276.10" font-size="7.0" font-weight="bold" text-anchor="start" >HI-5.0</text>
<text transform="translate(275.20,224.5) scale(0.94,1)" font-size="16.2" font-weight="normal" class="pl">C</text>
<line x1="301.30" y1="244.60" x2="301.30" y2="389.80" stroke="#0a0a0a" stroke-width="1.0"/>
<line x1="298.90" y1="389.80" x2="301.30" y2="389.80" stroke="#0a0a0a" stroke-width="0.9"/>
<text x="295.90" y="392.60" font-size="7.0" font-weight="bold" text-anchor="end" >0</text>
<line x1="298.90" y1="365.67" x2="301.30" y2="365.67" stroke="#0a0a0a" stroke-width="0.9"/>
<text x="295.90" y="368.47" font-size="7.0" font-weight="bold" text-anchor="end" >10</text>
<line x1="298.90" y1="341.53" x2="301.30" y2="341.53" stroke="#0a0a0a" stroke-width="0.9"/>
<text x="295.90" y="344.33" font-size="7.0" font-weight="bold" text-anchor="end" >20</text>
<line x1="298.90" y1="317.40" x2="301.30" y2="317.40" stroke="#0a0a0a" stroke-width="0.9"/>
<text x="295.90" y="320.20" font-size="7.0" font-weight="bold" text-anchor="end" >30</text>
<line x1="298.90" y1="293.27" x2="301.30" y2="293.27" stroke="#0a0a0a" stroke-width="0.9"/>
<text x="295.90" y="296.07" font-size="7.0" font-weight="bold" text-anchor="end" >40</text>
<line x1="298.90" y1="269.13" x2="301.30" y2="269.13" stroke="#0a0a0a" stroke-width="0.9"/>
<text x="295.90" y="271.93" font-size="7.0" font-weight="bold" text-anchor="end" >50</text>
<line x1="298.90" y1="245.00" x2="301.30" y2="245.00" stroke="#0a0a0a" stroke-width="0.9"/>
<text x="295.90" y="247.80" font-size="7.0" font-weight="bold" text-anchor="end" >60</text>
<text transform="translate(283.80,318.20) rotate(-90)" font-size="7.3" font-weight="bold" text-anchor="middle" textLength="73.0" lengthAdjust="spacingAndGlyphs">PC species, % of total</text>
<rect x="305.07" y="384.97" width="5.65" height="4.83" fill="#e9e9e9" stroke="#0a0a0a" stroke-width="1.15"/>
<line x1="307.90" y1="384.40" x2="307.90" y2="383.60" stroke="#0a0a0a" stroke-width="1.35"/>
<line x1="305.90" y1="383.60" x2="309.90" y2="383.60" stroke="#0a0a0a" stroke-width="1.4850000000000003"/>
<rect x="312.27" y="383.97" width="5.65" height="5.83" fill="#808080" stroke="#0a0a0a" stroke-width="1.15"/>
<line x1="315.10" y1="383.40" x2="315.10" y2="382.60" stroke="#0a0a0a" stroke-width="1.35"/>
<line x1="313.10" y1="382.60" x2="317.10" y2="382.60" stroke="#0a0a0a" stroke-width="1.4850000000000003"/>
<rect x="319.47" y="384.47" width="5.65" height="5.33" fill="#0a0a0a" stroke="#0a0a0a" stroke-width="1.15"/>
<line x1="322.30" y1="383.90" x2="322.30" y2="383.10" stroke="#0a0a0a" stroke-width="1.35"/>
<line x1="320.30" y1="383.10" x2="324.30" y2="383.10" stroke="#0a0a0a" stroke-width="1.4850000000000003"/>
<text x="315.10" y="400.90" font-size="7.0" font-weight="bold" text-anchor="middle" >DB0</text>
<rect x="330.88" y="354.88" width="5.65" height="34.92" fill="#e9e9e9" stroke="#0a0a0a" stroke-width="1.15"/>
<line x1="333.70" y1="354.30" x2="333.70" y2="347.20" stroke="#0a0a0a" stroke-width="1.35"/>
<line x1="331.70" y1="347.20" x2="335.70" y2="347.20" stroke="#0a0a0a" stroke-width="1.4850000000000003"/>
<rect x="338.07" y="350.18" width="5.65" height="39.62" fill="#808080" stroke="#0a0a0a" stroke-width="1.15"/>
<line x1="340.90" y1="349.60" x2="340.90" y2="342.80" stroke="#0a0a0a" stroke-width="1.35"/>
<line x1="338.90" y1="342.80" x2="342.90" y2="342.80" stroke="#0a0a0a" stroke-width="1.4850000000000003"/>
<rect x="345.27" y="340.97" width="5.65" height="48.83" fill="#0a0a0a" stroke="#0a0a0a" stroke-width="1.15"/>
<line x1="348.10" y1="340.40" x2="348.10" y2="333.50" stroke="#0a0a0a" stroke-width="1.35"/>
<line x1="346.10" y1="333.50" x2="350.10" y2="333.50" stroke="#0a0a0a" stroke-width="1.4850000000000003"/>
<text x="340.90" y="400.90" font-size="7.0" font-weight="bold" text-anchor="middle" >DB1</text>
<rect x="356.68" y="279.77" width="5.65" height="110.03" fill="#e9e9e9" stroke="#0a0a0a" stroke-width="1.15"/>
<line x1="359.50" y1="279.20" x2="359.50" y2="271.80" stroke="#0a0a0a" stroke-width="1.35"/>
<line x1="357.50" y1="271.80" x2="361.50" y2="271.80" stroke="#0a0a0a" stroke-width="1.4850000000000003"/>
<rect x="363.88" y="278.68" width="5.65" height="111.12" fill="#808080" stroke="#0a0a0a" stroke-width="1.15"/>
<line x1="366.70" y1="278.10" x2="366.70" y2="272.50" stroke="#0a0a0a" stroke-width="1.35"/>
<line x1="364.70" y1="272.50" x2="368.70" y2="272.50" stroke="#0a0a0a" stroke-width="1.4850000000000003"/>
<rect x="371.07" y="279.18" width="5.65" height="110.62" fill="#0a0a0a" stroke="#0a0a0a" stroke-width="1.15"/>
<line x1="373.90" y1="278.60" x2="373.90" y2="273.80" stroke="#0a0a0a" stroke-width="1.35"/>
<line x1="371.90" y1="273.80" x2="375.90" y2="273.80" stroke="#0a0a0a" stroke-width="1.4850000000000003"/>
<text x="366.70" y="400.90" font-size="7.0" font-weight="bold" text-anchor="middle" >DB2</text>
<rect x="382.47" y="372.68" width="5.65" height="17.12" fill="#e9e9e9" stroke="#0a0a0a" stroke-width="1.15"/>
<line x1="385.30" y1="372.10" x2="385.30" y2="369.90" stroke="#0a0a0a" stroke-width="1.35"/>
<line x1="383.30" y1="369.90" x2="387.30" y2="369.90" stroke="#0a0a0a" stroke-width="1.4850000000000003"/>
<rect x="389.67" y="372.18" width="5.65" height="17.62" fill="#808080" stroke="#0a0a0a" stroke-width="1.15"/>
<line x1="392.50" y1="371.60" x2="392.50" y2="369.00" stroke="#0a0a0a" stroke-width="1.35"/>
<line x1="390.50" y1="369.00" x2="394.50" y2="369.00" stroke="#0a0a0a" stroke-width="1.4850000000000003"/>
<rect x="396.87" y="368.77" width="5.65" height="21.03" fill="#0a0a0a" stroke="#0a0a0a" stroke-width="1.15"/>
<line x1="399.70" y1="368.20" x2="399.70" y2="367.50" stroke="#0a0a0a" stroke-width="1.35"/>
<line x1="397.70" y1="367.50" x2="401.70" y2="367.50" stroke="#0a0a0a" stroke-width="1.4850000000000003"/>
<text x="392.50" y="400.90" font-size="7.0" font-weight="bold" text-anchor="middle" >DB3</text>
<rect x="408.27" y="339.97" width="5.65" height="49.83" fill="#e9e9e9" stroke="#0a0a0a" stroke-width="1.15"/>
<line x1="411.10" y1="339.40" x2="411.10" y2="328.50" stroke="#0a0a0a" stroke-width="1.35"/>
<line x1="409.10" y1="328.50" x2="413.10" y2="328.50" stroke="#0a0a0a" stroke-width="1.4850000000000003"/>
<rect x="415.47" y="344.27" width="5.65" height="45.53" fill="#808080" stroke="#0a0a0a" stroke-width="1.15"/>
<line x1="418.30" y1="343.70" x2="418.30" y2="336.40" stroke="#0a0a0a" stroke-width="1.35"/>
<line x1="416.30" y1="336.40" x2="420.30" y2="336.40" stroke="#0a0a0a" stroke-width="1.4850000000000003"/>
<rect x="422.67" y="352.38" width="5.65" height="37.42" fill="#0a0a0a" stroke="#0a0a0a" stroke-width="1.15"/>
<line x1="425.50" y1="351.80" x2="425.50" y2="344.50" stroke="#0a0a0a" stroke-width="1.35"/>
<line x1="423.50" y1="344.50" x2="427.50" y2="344.50" stroke="#0a0a0a" stroke-width="1.4850000000000003"/>
<text x="418.30" y="400.90" font-size="7.0" font-weight="bold" text-anchor="middle" >DB4</text>
<rect x="434.07" y="378.38" width="5.65" height="11.43" fill="#e9e9e9" stroke="#0a0a0a" stroke-width="1.15"/>
<line x1="436.90" y1="377.80" x2="436.90" y2="375.00" stroke="#0a0a0a" stroke-width="1.35"/>
<line x1="434.90" y1="375.00" x2="438.90" y2="375.00" stroke="#0a0a0a" stroke-width="1.4850000000000003"/>
<rect x="441.27" y="379.77" width="5.65" height="10.03" fill="#808080" stroke="#0a0a0a" stroke-width="1.15"/>
<line x1="444.10" y1="379.20" x2="444.10" y2="377.50" stroke="#0a0a0a" stroke-width="1.35"/>
<line x1="442.10" y1="377.50" x2="446.10" y2="377.50" stroke="#0a0a0a" stroke-width="1.4850000000000003"/>
<rect x="448.47" y="380.57" width="5.65" height="9.23" fill="#0a0a0a" stroke="#0a0a0a" stroke-width="1.15"/>
<line x1="451.30" y1="380.00" x2="451.30" y2="378.30" stroke="#0a0a0a" stroke-width="1.35"/>
<line x1="449.30" y1="378.30" x2="453.30" y2="378.30" stroke="#0a0a0a" stroke-width="1.4850000000000003"/>
<text x="444.10" y="400.90" font-size="7.0" font-weight="bold" text-anchor="middle" >DB5</text>
<rect x="459.88" y="381.77" width="5.65" height="8.03" fill="#e9e9e9" stroke="#0a0a0a" stroke-width="1.15"/>
<line x1="462.70" y1="381.20" x2="462.70" y2="378.30" stroke="#0a0a0a" stroke-width="1.35"/>
<line x1="460.70" y1="378.30" x2="464.70" y2="378.30" stroke="#0a0a0a" stroke-width="1.4850000000000003"/>
<rect x="467.07" y="382.27" width="5.65" height="7.53" fill="#808080" stroke="#0a0a0a" stroke-width="1.15"/>
<line x1="469.90" y1="381.70" x2="469.90" y2="379.70" stroke="#0a0a0a" stroke-width="1.35"/>
<line x1="467.90" y1="379.70" x2="471.90" y2="379.70" stroke="#0a0a0a" stroke-width="1.4850000000000003"/>
<rect x="474.27" y="383.57" width="5.65" height="6.23" fill="#0a0a0a" stroke="#0a0a0a" stroke-width="1.15"/>
<line x1="477.10" y1="383.00" x2="477.10" y2="382.30" stroke="#0a0a0a" stroke-width="1.35"/>
<line x1="475.10" y1="382.30" x2="479.10" y2="382.30" stroke="#0a0a0a" stroke-width="1.4850000000000003"/>
<text x="469.90" y="400.90" font-size="7.0" font-weight="bold" text-anchor="middle" >DB6</text>
<rect x="485.68" y="389.57" width="5.65" height="0.23" fill="#e9e9e9" stroke="#0a0a0a" stroke-width="1.15"/>
<line x1="488.50" y1="389.00" x2="488.50" y2="388.70" stroke="#0a0a0a" stroke-width="1.35"/>
<line x1="486.50" y1="388.70" x2="490.50" y2="388.70" stroke="#0a0a0a" stroke-width="1.4850000000000003"/>
<rect x="492.88" y="389.57" width="5.65" height="0.23" fill="#808080" stroke="#0a0a0a" stroke-width="1.15"/>
<line x1="495.70" y1="389.00" x2="495.70" y2="388.70" stroke="#0a0a0a" stroke-width="1.35"/>
<line x1="493.70" y1="388.70" x2="497.70" y2="388.70" stroke="#0a0a0a" stroke-width="1.4850000000000003"/>
<rect x="500.07" y="389.57" width="5.65" height="0.23" fill="#0a0a0a" stroke="#0a0a0a" stroke-width="1.15"/>
<line x1="502.90" y1="389.00" x2="502.90" y2="388.70" stroke="#0a0a0a" stroke-width="1.35"/>
<line x1="500.90" y1="388.70" x2="504.90" y2="388.70" stroke="#0a0a0a" stroke-width="1.4850000000000003"/>
<text x="495.70" y="400.90" font-size="7.0" font-weight="bold" text-anchor="middle" >DB7</text>
<line x1="298.90" y1="389.80" x2="508.50" y2="389.80" stroke="#0a0a0a" stroke-width="1.3"/>
<text x="333.20" y="344.10" font-size="7.0" font-weight="bold" text-anchor="middle" class="lt">b</text>
<text x="340.60" y="339.40" font-size="7.0" font-weight="bold" text-anchor="middle" class="lt">b</text>
<text x="347.60" y="328.80" font-size="7.0" font-weight="bold" text-anchor="middle" class="lt">a</text>
<text x="384.90" y="366.50" font-size="7.0" font-weight="bold" text-anchor="middle" class="lt">b</text>
<text x="392.00" y="366.50" font-size="7.0" font-weight="bold" text-anchor="middle" class="lt">b</text>
<text x="399.10" y="363.10" font-size="7.0" font-weight="bold" text-anchor="middle" class="lt">a</text>
<text x="410.60" y="324.20" font-size="7.0" font-weight="bold" text-anchor="middle" class="lt">a</text>
<text x="417.70" y="332.70" font-size="7.0" font-weight="bold" text-anchor="middle" class="lt">ab</text>
<text x="424.40" y="341.60" font-size="7.0" font-weight="bold" text-anchor="middle" class="lt">b</text>
<text x="436.80" y="371.60" font-size="7.0" font-weight="bold" text-anchor="middle" class="lt">a</text>
<text x="443.50" y="373.80" font-size="7.0" font-weight="bold" text-anchor="middle" class="lt">ab</text>
<text x="451.10" y="375.80" font-size="7.0" font-weight="bold" text-anchor="middle" class="lt">b</text>
<text x="462.10" y="375.50" font-size="7.0" font-weight="bold" text-anchor="middle" class="lt">a</text>
<text x="469.70" y="376.60" font-size="7.0" font-weight="bold" text-anchor="middle" class="lt">a</text>
<text x="476.20" y="378.30" font-size="7.0" font-weight="bold" text-anchor="middle" class="lt">b</text>
<rect x="453.10" y="244.40" width="8.90" height="7.40" fill="#e9e9e9" stroke="#0a0a0a" stroke-width="1.2"/>
<text x="467.30" y="251.30" font-size="7.0" font-weight="bold" text-anchor="start" >HI-0</text>
<rect x="453.10" y="257.10" width="8.90" height="7.40" fill="#808080" stroke="#0a0a0a" stroke-width="1.2"/>
<text x="467.30" y="264.00" font-size="7.0" font-weight="bold" text-anchor="start" >HI-2.5</text>
<rect x="453.10" y="269.80" width="8.90" height="7.40" fill="#0a0a0a" stroke="#0a0a0a" stroke-width="1.2"/>
<text x="467.30" y="276.70" font-size="7.0" font-weight="bold" text-anchor="start" >HI-5.0</text>
<text transform="translate(518.80,224.5) scale(0.94,1)" font-size="16.2" font-weight="normal" class="pl">D</text>
<line x1="543.20" y1="245.20" x2="543.20" y2="389.90" stroke="#0a0a0a" stroke-width="1.0"/>
<line x1="540.80" y1="389.90" x2="543.20" y2="389.90" stroke="#0a0a0a" stroke-width="0.9"/>
<text x="537.80" y="392.70" font-size="7.0" font-weight="bold" text-anchor="end" >0</text>
<line x1="540.80" y1="365.85" x2="543.20" y2="365.85" stroke="#0a0a0a" stroke-width="0.9"/>
<text x="537.80" y="368.65" font-size="7.0" font-weight="bold" text-anchor="end" >10</text>
<line x1="540.80" y1="341.80" x2="543.20" y2="341.80" stroke="#0a0a0a" stroke-width="0.9"/>
<text x="537.80" y="344.60" font-size="7.0" font-weight="bold" text-anchor="end" >20</text>
<line x1="540.80" y1="317.75" x2="543.20" y2="317.75" stroke="#0a0a0a" stroke-width="0.9"/>
<text x="537.80" y="320.55" font-size="7.0" font-weight="bold" text-anchor="end" >30</text>
<line x1="540.80" y1="293.70" x2="543.20" y2="293.70" stroke="#0a0a0a" stroke-width="0.9"/>
<text x="537.80" y="296.50" font-size="7.0" font-weight="bold" text-anchor="end" >40</text>
<line x1="540.80" y1="269.65" x2="543.20" y2="269.65" stroke="#0a0a0a" stroke-width="0.9"/>
<text x="537.80" y="272.45" font-size="7.0" font-weight="bold" text-anchor="end" >50</text>
<line x1="540.80" y1="245.60" x2="543.20" y2="245.60" stroke="#0a0a0a" stroke-width="0.9"/>
<text x="537.80" y="248.40" font-size="7.0" font-weight="bold" text-anchor="end" >60</text>
<text transform="translate(526.00,318.20) rotate(-90)" font-size="7.3" font-weight="bold" text-anchor="middle" textLength="73.0" lengthAdjust="spacingAndGlyphs">PE species, % of total</text>
<rect x="546.88" y="389.57" width="5.65" height="0.32" fill="#e9e9e9" stroke="#0a0a0a" stroke-width="1.15"/>
<line x1="549.70" y1="389.00" x2="549.70" y2="388.70" stroke="#0a0a0a" stroke-width="1.35"/>
<line x1="547.70" y1="388.70" x2="551.70" y2="388.70" stroke="#0a0a0a" stroke-width="1.4850000000000003"/>
<rect x="554.08" y="389.57" width="5.65" height="0.32" fill="#808080" stroke="#0a0a0a" stroke-width="1.15"/>
<line x1="556.90" y1="389.00" x2="556.90" y2="388.70" stroke="#0a0a0a" stroke-width="1.35"/>
<line x1="554.90" y1="388.70" x2="558.90" y2="388.70" stroke="#0a0a0a" stroke-width="1.4850000000000003"/>
<rect x="561.27" y="389.57" width="5.65" height="0.32" fill="#0a0a0a" stroke="#0a0a0a" stroke-width="1.15"/>
<line x1="564.10" y1="389.00" x2="564.10" y2="388.70" stroke="#0a0a0a" stroke-width="1.35"/>
<line x1="562.10" y1="388.70" x2="566.10" y2="388.70" stroke="#0a0a0a" stroke-width="1.4850000000000003"/>
<text x="556.90" y="400.90" font-size="7.0" font-weight="bold" text-anchor="middle" >DB0</text>
<rect x="572.73" y="384.77" width="5.65" height="5.12" fill="#e9e9e9" stroke="#0a0a0a" stroke-width="1.15"/>
<line x1="575.55" y1="384.20" x2="575.55" y2="381.30" stroke="#0a0a0a" stroke-width="1.35"/>
<line x1="573.55" y1="381.30" x2="577.55" y2="381.30" stroke="#0a0a0a" stroke-width="1.4850000000000003"/>
<rect x="579.93" y="384.47" width="5.65" height="5.42" fill="#808080" stroke="#0a0a0a" stroke-width="1.15"/>
<line x1="582.75" y1="383.90" x2="582.75" y2="381.30" stroke="#0a0a0a" stroke-width="1.35"/>
<line x1="580.75" y1="381.30" x2="584.75" y2="381.30" stroke="#0a0a0a" stroke-width="1.4850000000000003"/>
<rect x="587.12" y="380.77" width="5.65" height="9.12" fill="#0a0a0a" stroke="#0a0a0a" stroke-width="1.15"/>
<line x1="589.95" y1="380.20" x2="589.95" y2="376.30" stroke="#0a0a0a" stroke-width="1.35"/>
<line x1="587.95" y1="376.30" x2="591.95" y2="376.30" stroke="#0a0a0a" stroke-width="1.4850000000000003"/>
<text x="582.75" y="400.90" font-size="7.0" font-weight="bold" text-anchor="middle" >DB1</text>
<rect x="598.58" y="328.57" width="5.65" height="61.32" fill="#e9e9e9" stroke="#0a0a0a" stroke-width="1.15"/>
<line x1="601.40" y1="328.00" x2="601.40" y2="317.90" stroke="#0a0a0a" stroke-width="1.35"/>
<line x1="599.40" y1="317.90" x2="603.40" y2="317.90" stroke="#0a0a0a" stroke-width="1.4850000000000003"/>
<rect x="605.78" y="326.57" width="5.65" height="63.32" fill="#808080" stroke="#0a0a0a" stroke-width="1.15"/>
<line x1="608.60" y1="326.00" x2="608.60" y2="319.60" stroke="#0a0a0a" stroke-width="1.35"/>
<line x1="606.60" y1="319.60" x2="610.60" y2="319.60" stroke="#0a0a0a" stroke-width="1.4850000000000003"/>
<rect x="612.98" y="317.07" width="5.65" height="72.82" fill="#0a0a0a" stroke="#0a0a0a" stroke-width="1.15"/>
<line x1="615.80" y1="316.50" x2="615.80" y2="306.00" stroke="#0a0a0a" stroke-width="1.35"/>
<line x1="613.80" y1="306.00" x2="617.80" y2="306.00" stroke="#0a0a0a" stroke-width="1.4850000000000003"/>
<text x="608.60" y="400.90" font-size="7.0" font-weight="bold" text-anchor="middle" >DB2</text>
<rect x="624.42" y="383.97" width="5.65" height="5.92" fill="#e9e9e9" stroke="#0a0a0a" stroke-width="1.15"/>
<line x1="627.25" y1="383.40" x2="627.25" y2="381.80" stroke="#0a0a0a" stroke-width="1.35"/>
<line x1="625.25" y1="381.80" x2="629.25" y2="381.80" stroke="#0a0a0a" stroke-width="1.4850000000000003"/>
<rect x="631.62" y="383.97" width="5.65" height="5.92" fill="#808080" stroke="#0a0a0a" stroke-width="1.15"/>
<line x1="634.45" y1="383.40" x2="634.45" y2="381.80" stroke="#0a0a0a" stroke-width="1.35"/>
<line x1="632.45" y1="381.80" x2="636.45" y2="381.80" stroke="#0a0a0a" stroke-width="1.4850000000000003"/>
<rect x="638.82" y="380.57" width="5.65" height="9.32" fill="#0a0a0a" stroke="#0a0a0a" stroke-width="1.15"/>
<line x1="641.65" y1="380.00" x2="641.65" y2="378.30" stroke="#0a0a0a" stroke-width="1.35"/>
<line x1="639.65" y1="378.30" x2="643.65" y2="378.30" stroke="#0a0a0a" stroke-width="1.4850000000000003"/>
<text x="634.45" y="400.90" font-size="7.0" font-weight="bold" text-anchor="middle" >DB3</text>
<rect x="650.27" y="270.77" width="5.65" height="119.12" fill="#e9e9e9" stroke="#0a0a0a" stroke-width="1.15"/>
<line x1="653.10" y1="270.20" x2="653.10" y2="261.80" stroke="#0a0a0a" stroke-width="1.35"/>
<line x1="651.10" y1="261.80" x2="655.10" y2="261.80" stroke="#0a0a0a" stroke-width="1.4850000000000003"/>
<rect x="657.48" y="269.97" width="5.65" height="119.92" fill="#808080" stroke="#0a0a0a" stroke-width="1.15"/>
<line x1="660.30" y1="269.40" x2="660.30" y2="260.40" stroke="#0a0a0a" stroke-width="1.35"/>
<line x1="658.30" y1="260.40" x2="662.30" y2="260.40" stroke="#0a0a0a" stroke-width="1.4850000000000003"/>
<rect x="664.67" y="280.77" width="5.65" height="109.12" fill="#0a0a0a" stroke="#0a0a0a" stroke-width="1.15"/>
<line x1="667.50" y1="280.20" x2="667.50" y2="270.90" stroke="#0a0a0a" stroke-width="1.35"/>
<line x1="665.50" y1="270.90" x2="669.50" y2="270.90" stroke="#0a0a0a" stroke-width="1.4850000000000003"/>
<text x="660.30" y="400.90" font-size="7.0" font-weight="bold" text-anchor="middle" >DB4</text>
<rect x="676.12" y="369.27" width="5.65" height="20.62" fill="#e9e9e9" stroke="#0a0a0a" stroke-width="1.15"/>
<line x1="678.95" y1="368.70" x2="678.95" y2="365.80" stroke="#0a0a0a" stroke-width="1.35"/>
<line x1="676.95" y1="365.80" x2="680.95" y2="365.80" stroke="#0a0a0a" stroke-width="1.4850000000000003"/>
<rect x="683.33" y="370.07" width="5.65" height="19.82" fill="#808080" stroke="#0a0a0a" stroke-width="1.15"/>
<line x1="686.15" y1="369.50" x2="686.15" y2="367.50" stroke="#0a0a0a" stroke-width="1.35"/>
<line x1="684.15" y1="367.50" x2="688.15" y2="367.50" stroke="#0a0a0a" stroke-width="1.4850000000000003"/>
<rect x="690.52" y="370.07" width="5.65" height="19.82" fill="#0a0a0a" stroke="#0a0a0a" stroke-width="1.15"/>
<line x1="693.35" y1="369.50" x2="693.35" y2="366.50" stroke="#0a0a0a" stroke-width="1.35"/>
<line x1="691.35" y1="366.50" x2="695.35" y2="366.50" stroke="#0a0a0a" stroke-width="1.4850000000000003"/>
<text x="686.15" y="400.90" font-size="7.0" font-weight="bold" text-anchor="middle" >DB5</text>
<rect x="701.98" y="367.07" width="5.65" height="22.82" fill="#e9e9e9" stroke="#0a0a0a" stroke-width="1.15"/>
<line x1="704.80" y1="366.50" x2="704.80" y2="361.00" stroke="#0a0a0a" stroke-width="1.35"/>
<line x1="702.80" y1="361.00" x2="706.80" y2="361.00" stroke="#0a0a0a" stroke-width="1.4850000000000003"/>
<rect x="709.18" y="370.07" width="5.65" height="19.82" fill="#808080" stroke="#0a0a0a" stroke-width="1.15"/>
<line x1="712.00" y1="369.50" x2="712.00" y2="365.30" stroke="#0a0a0a" stroke-width="1.35"/>
<line x1="710.00" y1="365.30" x2="714.00" y2="365.30" stroke="#0a0a0a" stroke-width="1.4850000000000003"/>
<rect x="716.38" y="373.07" width="5.65" height="16.82" fill="#0a0a0a" stroke="#0a0a0a" stroke-width="1.15"/>
<line x1="719.20" y1="372.50" x2="719.20" y2="369.20" stroke="#0a0a0a" stroke-width="1.35"/>
<line x1="717.20" y1="369.20" x2="721.20" y2="369.20" stroke="#0a0a0a" stroke-width="1.4850000000000003"/>
<text x="712.00" y="400.90" font-size="7.0" font-weight="bold" text-anchor="middle" >DB6</text>
<rect x="727.83" y="389.38" width="5.65" height="0.52" fill="#e9e9e9" stroke="#0a0a0a" stroke-width="1.15"/>
<line x1="730.65" y1="388.80" x2="730.65" y2="388.50" stroke="#0a0a0a" stroke-width="1.35"/>
<line x1="728.65" y1="388.50" x2="732.65" y2="388.50" stroke="#0a0a0a" stroke-width="1.4850000000000003"/>
<rect x="735.03" y="389.38" width="5.65" height="0.52" fill="#808080" stroke="#0a0a0a" stroke-width="1.15"/>
<line x1="737.85" y1="388.80" x2="737.85" y2="388.50" stroke="#0a0a0a" stroke-width="1.35"/>
<line x1="735.85" y1="388.50" x2="739.85" y2="388.50" stroke="#0a0a0a" stroke-width="1.4850000000000003"/>
<rect x="742.23" y="389.38" width="5.65" height="0.52" fill="#0a0a0a" stroke="#0a0a0a" stroke-width="1.15"/>
<line x1="745.05" y1="388.80" x2="745.05" y2="388.50" stroke="#0a0a0a" stroke-width="1.35"/>
<line x1="743.05" y1="388.50" x2="747.05" y2="388.50" stroke="#0a0a0a" stroke-width="1.4850000000000003"/>
<text x="737.85" y="400.90" font-size="7.0" font-weight="bold" text-anchor="middle" >DB7</text>
<rect x="753.67" y="389.77" width="5.65" height="0.12" fill="#e9e9e9" stroke="#0a0a0a" stroke-width="1.15"/>
<rect x="760.88" y="389.77" width="5.65" height="0.12" fill="#808080" stroke="#0a0a0a" stroke-width="1.15"/>
<rect x="768.07" y="389.77" width="5.65" height="0.12" fill="#0a0a0a" stroke="#0a0a0a" stroke-width="1.15"/>
<text x="763.70" y="400.90" font-size="7.0" font-weight="bold" text-anchor="middle" >DB8</text>
<line x1="540.80" y1="389.90" x2="777.00" y2="389.90" stroke="#0a0a0a" stroke-width="1.3"/>
<text x="601.60" y="315.70" font-size="7.0" font-weight="bold" text-anchor="middle" class="lt">b</text>
<text x="608.50" y="314.20" font-size="7.0" font-weight="bold" text-anchor="middle" class="lt">b</text>
<text x="615.60" y="301.80" font-size="7.0" font-weight="bold" text-anchor="middle" class="lt">a</text>
<text x="627.20" y="377.10" font-size="7.0" font-weight="bold" text-anchor="middle" class="lt">b</text>
<text x="634.50" y="377.10" font-size="7.0" font-weight="bold" text-anchor="middle" class="lt">b</text>
<text x="641.20" y="375.40" font-size="7.0" font-weight="bold" text-anchor="middle" class="lt">a</text>
<text x="653.00" y="260.40" font-size="7.0" font-weight="bold" text-anchor="middle" class="lt">a</text>
<text x="660.10" y="256.20" font-size="7.0" font-weight="bold" text-anchor="middle" class="lt">a</text>
<text x="667.00" y="267.50" font-size="7.0" font-weight="bold" text-anchor="middle" class="lt">b</text>
<text x="704.80" y="357.30" font-size="7.0" font-weight="bold" text-anchor="middle" class="lt">a</text>
<text x="712.10" y="363.10" font-size="7.0" font-weight="bold" text-anchor="middle" class="lt">ab</text>
<text x="718.90" y="367.50" font-size="7.0" font-weight="bold" text-anchor="middle" class="lt">b</text>
<text x="756.60" y="384.40" font-size="7.0" font-weight="bold" text-anchor="middle" class="lt">a</text>
<text x="763.40" y="384.40" font-size="7.0" font-weight="bold" text-anchor="middle" class="lt">ab</text>
<text x="771.30" y="384.40" font-size="7.0" font-weight="bold" text-anchor="middle" class="lt">b</text>
<rect x="733.00" y="244.40" width="8.90" height="7.40" fill="#e9e9e9" stroke="#0a0a0a" stroke-width="1.2"/>
<text x="747.60" y="251.30" font-size="7.0" font-weight="bold" text-anchor="start" >HI-0</text>
<rect x="733.00" y="257.10" width="8.90" height="7.40" fill="#808080" stroke="#0a0a0a" stroke-width="1.2"/>
<text x="747.60" y="264.00" font-size="7.0" font-weight="bold" text-anchor="start" >HI-2.5</text>
<rect x="733.00" y="269.80" width="8.90" height="7.40" fill="#0a0a0a" stroke="#0a0a0a" stroke-width="1.2"/>
<text x="747.60" y="276.70" font-size="7.0" font-weight="bold" text-anchor="start" >HI-5.0</text>
</svg>
</body></html>
